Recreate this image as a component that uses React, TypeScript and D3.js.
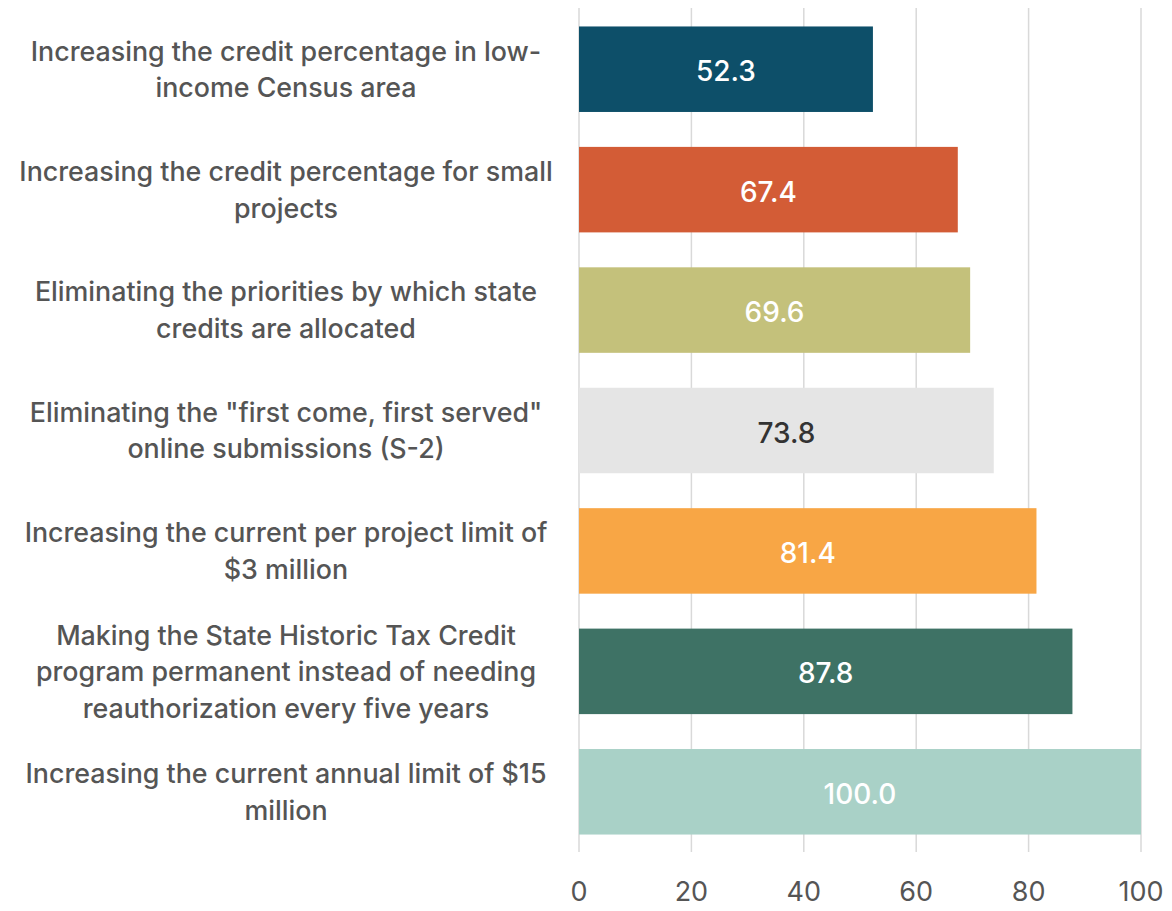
import React, { useEffect, useRef } from 'react';
import * as d3 from 'd3';

// Survey categories, one entry per bar; "|" marks the line breaks used in the label
const categories: string[] = [
  'Increasing the credit percentage in low-|income Census area',
  'Increasing the credit percentage for small|projects',
  'Eliminating the priorities by which state|credits are allocated',
  'Eliminating the "first come, first served"|online submissions (S-2)',
  'Increasing the current per project limit of|$3 million',
  'Making the State Historic Tax Credit|program permanent instead of needing|reauthorization every five years',
  'Increasing the current annual limit of $15|million',
];

const values: number[] = [52.3, 67.4, 69.6, 73.8, 81.4, 87.8, 100.0];

const barColors: string[] = ['#0d4f69', '#d35c36', '#c4c17b', '#e5e5e5', '#f8a645', '#3e7265', '#a9d1c7'];
const valueColors: string[] = ['#ffffff', '#ffffff', '#ffffff', '#333333', '#ffffff', '#ffffff', '#ffffff'];

const xTicks: number[] = [0, 20, 40, 60, 80, 100];

const FONT = 'Inter, "Open Sans", sans-serif';

const App: React.FC = () => {
  const ref = useRef<SVGSVGElement | null>(null);

  useEffect(() => {
    if (!ref.current) return;
    const svg = d3.select(ref.current);
    svg.selectAll('*').remove();

    const x = d3.scaleLinear().domain([0, 100]).range([579, 1141]);
    const y = d3.scaleBand<number>()
      .domain(d3.range(categories.length))
      .range([9, 852])
      .paddingInner(0.29)
      .paddingOuter(0.145);

    // vertical gridlines (extend below the plot as tick marks)
    svg.append('g')
      .selectAll('line')
      .data(xTicks)
      .enter()
      .append('line')
      .attr('x1', d => x(d))
      .attr('x2', d => x(d))
      .attr('y1', 8)
      .attr('y2', 852)
      .attr('stroke', '#d9d9d9')
      .attr('stroke-width', 1.5);

    // bars
    svg.append('g')
      .selectAll('rect')
      .data(values)
      .enter()
      .append('rect')
      .attr('x', x(0))
      .attr('y', (_, i) => y(i) as number)
      .attr('width', d => x(d) - x(0))
      .attr('height', y.bandwidth())
      .attr('fill', (_, i) => barColors[i]);

    // value labels
    svg.append('g')
      .selectAll('text')
      .data(values)
      .enter()
      .append('text')
      .attr('x', d => (x(0) + x(d)) / 2)
      .attr('y', (_, i) => (y(i) as number) + y.bandwidth() / 2 + 2)
      .attr('dy', '0.36em')
      .attr('text-anchor', 'middle')
      .attr('fill', (_, i) => valueColors[i])
      .style('font-family', FONT)
      .style('font-size', '28px')
      .style('font-weight', 500)
      .text(d => d.toFixed(1));

    // category labels, centred, multi-line
    const lineH = 36.5;
    const lab = svg.append('g')
      .selectAll('text')
      .data(categories)
      .enter()
      .append('text')
      .attr('text-anchor', 'middle')
      .attr('fill', '#555555')
      .style('font-family', FONT)
      .style('font-size', '26.8px')
      .style('font-weight', 500);

    lab.each(function (d, i) {
      const lines = d.split('|');
      const cy = (y(i) as number) + y.bandwidth() / 2;
      const top = cy - ((lines.length - 1) * lineH) / 2;
      d3.select(this)
        .selectAll('tspan')
        .data(lines)
        .enter()
        .append('tspan')
        .attr('x', 286)
        .attr('y', (_, j) => top + j * lineH)
        .attr('dy', '0.36em')
        .text(t => t);
    });

    // x tick labels
    svg.append('g')
      .selectAll('text')
      .data(xTicks)
      .enter()
      .append('text')
      .attr('x', d => x(d))
      .attr('y', 901)
      .attr('text-anchor', 'middle')
      .attr('fill', '#555555')
      .style('font-family', FONT)
      .style('font-size', '27px')
      .text(d => String(d));
  }, []);

  return (
    <div style={{ position: 'absolute', left: 0, top: 0, background: '#fff' }}>
      <svg ref={ref} width={1172} height={911} />
    </div>
  );
};

export default App;
